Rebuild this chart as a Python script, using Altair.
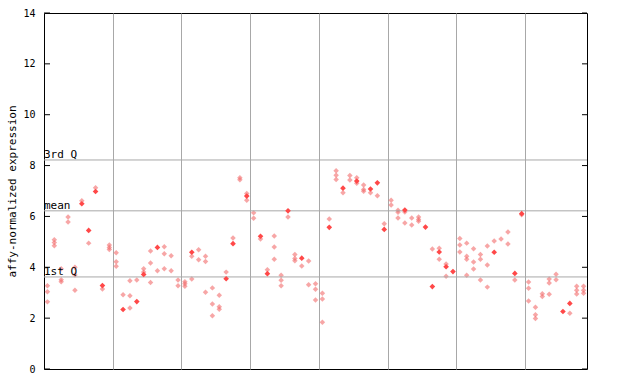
import altair as alt
import pandas as pd

# sample column index (0..78), expression value, solid marker flag
sample_col = [
    0, 0, 0, 1, 1, 1, 2, 2, 2, 3, 3, 4, 4, 4, 5, 5, 6, 6, 7, 7, 8, 8, 9, 9, 9,
    10, 10, 10, 11, 11, 12, 12, 12, 13, 13, 14, 14, 14, 15, 15, 15, 16, 16,
    17, 17, 17, 18, 18, 19, 19, 20, 20, 20, 21, 21, 21, 22, 22, 23, 23, 23,
    24, 24, 24, 25, 25, 25, 26, 26, 27, 27, 28, 28, 29, 29, 29, 30, 30, 31, 31,
    32, 32, 33, 33, 33, 34, 34, 34, 35, 35, 36, 36, 36, 37, 37, 38, 38,
    39, 39, 39, 40, 40, 40, 41, 41, 42, 42, 42, 43, 43, 44, 44, 45, 45, 45,
    46, 46, 46, 47, 47, 48, 48, 49, 49, 50, 50, 51, 51, 51, 52, 52, 52,
    53, 53, 54, 54, 54, 55, 56, 56, 57, 57, 57, 58, 58, 58, 59,
    60, 60, 60, 61, 61, 61, 61, 62, 62, 62, 63, 63, 63, 64, 64, 64, 65, 65, 66,
    67, 67, 68, 68, 69, 69, 70, 70, 70, 71, 71, 71, 72, 72, 73, 73, 73, 74, 74,
    75, 76, 76, 77, 77, 77, 78, 78, 78,
]
expr_value = [
    3.27, 3.04, 2.64, 5.08, 4.97, 4.85, 3.94, 3.51, 3.43, 5.98, 5.78, 4.0, 3.7, 3.1,
    6.62, 6.5, 5.45, 4.95, 7.13, 6.98, 3.28, 3.15, 4.88, 4.78, 4.7,
    4.57, 4.22, 4.04, 2.92, 2.34, 3.47, 2.88, 2.4, 3.5, 2.65, 3.94, 3.81, 3.72,
    4.64, 4.17, 3.4, 4.78, 3.86, 4.81, 4.53, 3.94, 4.45, 3.86, 3.5, 3.27,
    3.43, 3.35, 3.25, 4.59, 4.43, 3.54, 4.69, 4.3, 4.43, 4.23, 3.02,
    3.19, 2.56, 2.09, 2.9, 2.45, 2.35, 3.81, 3.55, 5.15, 4.93, 7.52, 7.44,
    6.9, 6.8, 6.64, 6.14, 5.93, 5.22, 5.11, 3.9, 3.75, 5.23, 4.8, 4.32,
    3.69, 3.49, 3.27, 6.22, 5.98, 4.5, 4.35, 4.26, 4.36, 4.05, 4.25, 3.31,
    3.35, 3.14, 2.71, 2.98, 2.75, 1.84, 5.9, 5.57, 7.8, 7.62, 7.45, 7.11, 6.93,
    7.61, 7.43, 7.52, 7.39, 7.3, 7.24, 7.06, 6.99, 7.08, 6.93, 7.32, 6.81,
    5.71, 5.49, 6.64, 6.45, 6.24, 6.16, 5.94, 6.25, 6.17, 5.74,
    5.94, 5.66, 5.98, 5.88, 5.81, 5.58, 4.72, 3.24, 4.75, 4.6, 4.32,
    4.13, 4.02, 3.65, 3.83,
    5.13, 4.88, 4.6, 4.95, 4.43, 4.32, 3.69, 4.73, 4.21, 3.93, 4.5, 4.32, 3.5,
    4.84, 4.09, 3.22, 5.03, 4.59, 5.11, 5.39, 4.92, 3.76, 3.5, 6.11, 6.07,
    3.42, 3.18, 2.67, 2.43, 2.13, 1.99, 2.96, 2.85, 3.54, 3.38, 2.94, 3.73, 3.51,
    2.26, 2.58, 2.19, 3.25, 3.1, 2.95, 3.25, 3.1, 2.98,
]
solid_cols_values = {
    5: 6.5, 6: 5.45, 7: 6.98, 8: 3.28, 11: 2.34, 13: 2.65, 14: 3.72, 16: 4.78,
    21: 4.59, 26: 3.55, 27: 4.93, 29: 6.8, 31: 5.22, 32: 3.75, 35: 6.22,
    37: 4.36, 41: 5.57, 43: 7.11, 45: 7.39, 47: 7.08, 48: 7.32, 49: 5.49,
    52: 6.25, 55: 5.58, 56: 3.24, 57: 4.6, 58: 4.02, 59: 3.83, 65: 4.59,
    68: 3.76, 69: 6.11, 75: 2.26, 76: 2.58,
}

ref_names = ["3rd Q", "mean", "1st Q"]
ref_values = [8.22, 6.22, 3.62]
y_ticks = [0, 2, 4, 6, 8, 10, 12, 14]
group_edges = [10, 20, 30, 40, 50, 60, 70]
n_cols = 79

df = pd.DataFrame({"col": sample_col, "value": expr_value})
df["pos"] = df["col"] + 0.5
df["solid"] = [solid_cols_values.get(c) == v for c, v in zip(sample_col, expr_value)]

W, H = 543, 356
FONT = "DejaVu Sans Mono"

xs = alt.Scale(domain=[0, n_cols], nice=False, zero=False)
ys = alt.Scale(domain=[0, 14], nice=False)

base = alt.Chart(df)

x_enc = alt.X("pos:Q", scale=xs,
              axis=alt.Axis(values=group_edges, grid=True, labels=False, ticks=False,
                            domain=False, title=None, gridColor="#a8a8a8", gridWidth=1))
y_enc = alt.Y("value:Q", scale=ys,
              axis=alt.Axis(values=y_ticks, grid=False, ticks=False, domain=False,
                            labelFont=FONT, labelFontSize=10, labelColor="black",
                            labelPadding=9, title="affy-normalized expression",
                            titleFont=FONT, titleFontSize=11, titleFontWeight="normal",
                            titleColor="black", titleAngle=270, titleX=-32, titleY=H / 2,
                            titleAlign="center", titleBaseline="middle"))

light = base.transform_filter(alt.datum.solid == False).mark_point(
    shape="diamond", filled=True, size=30, color="#f26a6a", opacity=0.6
).encode(x=x_enc, y=y_enc)

solid = base.transform_filter(alt.datum.solid == True).mark_point(
    shape="diamond", filled=True, size=32, color="#ff4848", opacity=1
).encode(x=alt.X("pos:Q", scale=xs), y=alt.Y("value:Q", scale=ys))

ref_df = pd.DataFrame({"name": ref_names, "value": ref_values})
ref_rules = alt.Chart(ref_df).mark_rule(color="#a8a8a8", strokeWidth=1).encode(
    y=alt.Y("value:Q", scale=ys), x=alt.value(0), x2=alt.value(W)
)
ref_text = alt.Chart(ref_df).mark_text(
    align="left", baseline="alphabetic", font=FONT, fontSize=11, color="black", dx=0, dy=-2
).encode(y=alt.Y("value:Q", scale=ys), x=alt.value(0), text="name:N")

tick_df = pd.DataFrame({"value": y_ticks})
left_ticks = alt.Chart(tick_df).mark_rule(color="black").encode(
    y=alt.Y("value:Q", scale=ys), x=alt.value(0), x2=alt.value(6)
)
right_ticks = alt.Chart(tick_df).mark_rule(color="black").encode(
    y=alt.Y("value:Q", scale=ys), x=alt.value(W - 5), x2=alt.value(W)
)

chart = alt.layer(light, ref_rules, solid, ref_text, left_ticks, right_ticks).properties(
    width=W, height=H,
    padding={"left": 44, "top": 13, "right": 53, "bottom": 15},
    autosize=alt.AutoSizeParams(type="none"),
    background="white",
).configure_view(stroke="black", strokeWidth=1)

chart.save("out.html", embed_options={"renderer": "svg", "actions": False})
